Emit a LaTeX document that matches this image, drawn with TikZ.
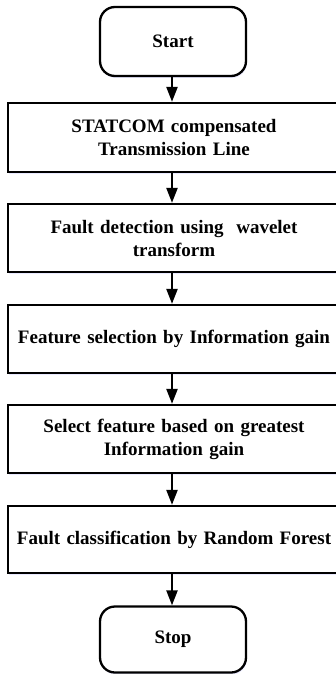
\documentclass[tikz,border=0pt]{standalone}
\usepackage{fontspec}
\setmainfont{Liberation Serif}
\usetikzlibrary{arrows.meta,shadows}
\begin{document}
\begin{tikzpicture}[x=1pt,y=1pt,
  base/.style={draw=black, line width=2.3pt, fill=white, align=center,
    font=\fontsize{19}{23}\selectfont\bfseries,
    drop shadow={shadow xshift=0.8pt, shadow yshift=-2pt, fill=blue!25, opacity=0.35}},
  stepbox/.style={base, minimum width=332pt, text width=318pt, inner sep=0pt},
  term/.style={base, rounded corners=15pt, minimum width=146pt, inner sep=0pt},
  arr/.style={line width=2.3pt, -{Triangle[length=15pt,width=11pt]}}]
\useasboundingbox (0,0) rectangle (335,-674);
\node[term, minimum height=69pt] (start) at (173,-41.5) {Start};
\node[stepbox, minimum height=69pt] (b1) at (174,-137.5) {STATCOM compensated\\Transmission Line};
\node[stepbox, minimum height=68pt] (b2) at (174,-238) {Fault detection using\ \ wavelet\\transform};
\node[stepbox, minimum height=68pt] (b3) at (174,-339) {Feature selection by Information gain};
\node[stepbox, minimum height=68pt] (b4) at (174,-439) {Select feature based on greatest\\Information gain};
\node[stepbox, minimum height=67pt] (b5) at (174,-539.5) {Fault classification by Random Forest};
\node[term, minimum height=66pt] (stop) at (173,-639.5) {Stop};
\draw[arr] (start.south -| 172,0) -- (b1.north -| 172,0);
\draw[arr] (b1.south -| 172,0) -- (b2.north -| 172,0);
\draw[arr] (b2.south -| 172,0) -- (b3.north -| 172,0);
\draw[arr] (b3.south -| 172,0) -- (b4.north -| 172,0);
\draw[arr] (b4.south -| 172,0) -- (b5.north -| 172,0);
\draw[arr] (b5.south -| 172,0) -- (stop.north -| 172,0);
\end{tikzpicture}
\end{document}
